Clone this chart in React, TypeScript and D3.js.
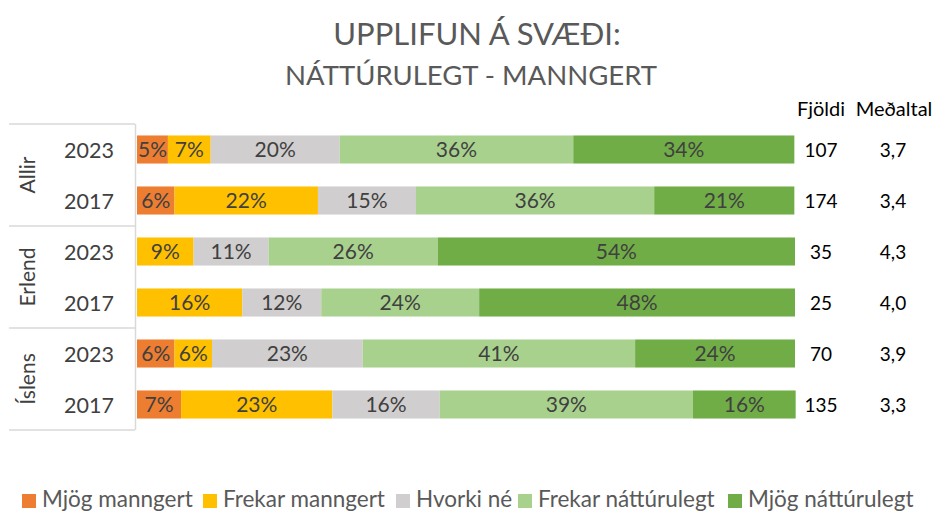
import React from "react";
import * as d3 from "d3";

const groups = ["Allir", "Erlend", "Íslens"];
const years = ["2023", "2017", "2023", "2017", "2023", "2017"];
const seriesNames = ["Mjög manngert", "Frekar manngert", "Hvorki né", "Frekar náttúrulegt", "Mjög náttúrulegt"];
const colors = ["#ED7D31", "#FFC000", "#D0CECE", "#A9D18E", "#70AD47"];
const mjogManngert = [4.7, 5.7, 0, 0, 5.7, 6.7];
const frekarManngert = [6.5, 21.8, 8.6, 16, 5.7, 23.0];
const hvorki = [19.6, 14.9, 11.4, 12, 22.9, 16.3];
const frekarNatt = [35.5, 36.2, 25.7, 24, 41.4, 38.5];
const mjogNatt = [33.6, 21.3, 54.3, 48, 24.3, 15.6];
const fjoldi = ["107", "174", "35", "25", "70", "135"];
const medaltal = ["3,7", "3,4", "4,3", "4,0", "3,9", "3,3"];

export default function App() {
  const W = 935, H = 513;
  const series = [mjogManngert, frekarManngert, hvorki, frekarNatt, mjogNatt];
  const x = d3.scaleLinear().domain([0, 100]).range([137, 795]);
  const y = d3.scaleBand().domain(d3.range(6).map(String)).range([124, 430]).paddingInner(0.45).paddingOuter(0.225);
  const font = "Lato, 'Open Sans', sans-serif";
  const txt = "#404040";
  const lineC = "#D9D9D9";
  const rows = d3.range(6).map((i) => {
    let acc = 0;
    return series.map((s, k) => {
      const v = s[i];
      const seg = { x0: acc, x1: acc + v, v, k };
      acc += v;
      return seg;
    });
  });
  const groupY = [124, 226, 328, 430];
  const legendX = [22, 203, 396, 518, 728];
  return (
    <svg width={W} height={H} style={{ position: "absolute", left: 0, top: 0, fontFamily: font }}>
      <rect width={W} height={H} fill="#fff" />
      <text x={477} y={45} textAnchor="middle" fontSize={31} fill="#595959">UPPLIFUN Á SVÆÐI:</text>
      <text x={471} y={85} textAnchor="middle" fontSize={27.5} fill="#595959">NÁTTÚRULEGT - MANNGERT</text>
      <text x={821} y={116} textAnchor="middle" fontSize={20} fill="#000">Fjöldi</text>
      <text x={894} y={116} textAnchor="middle" fontSize={20} fill="#000">Meðaltal</text>
      <line x1={135.5} x2={135.5} y1={groupY[0]} y2={groupY[3]} stroke={lineC} strokeWidth={1.5} />
      {groupY.map((gy, i) => (
        <line key={i} x1={9} x2={135} y1={gy} y2={gy} stroke={lineC} strokeWidth={1.5} />
      ))}
      {groups.map((g, i) => {
        const cy = (groupY[i] + groupY[i + 1]) / 2;
        return (
          <text key={g} transform={`translate(${35},${cy}) rotate(-90)`} textAnchor="middle" fontSize={21} fill={txt}>{g}</text>
        );
      })}
      {rows.map((segs, i) => {
        const by = y(String(i))!;
        const bh = y.bandwidth();
        const cy = by + bh / 2;
        return (
          <g key={i}>
            <text x={89} y={cy + 8} textAnchor="middle" fontSize={21.5} fill={txt}>{years[i]}</text>
            {segs.filter((s) => s.v > 0).map((s) => (
              <g key={s.k}>
                <rect x={x(s.x0)} y={by} width={x(s.x1) - x(s.x0)} height={bh} fill={colors[s.k]} />
                <text x={(x(s.x0) + x(s.x1)) / 2} y={cy + 7.5} textAnchor="middle" fontSize={21} fill={txt}>
                  {Math.round(s.v)}%
                </text>
              </g>
            ))}
            <text x={821} y={cy + 7} textAnchor="middle" fontSize={19} fill="#000">{fjoldi[i]}</text>
            <text x={893} y={cy + 7} textAnchor="middle" fontSize={19} fill="#000">{medaltal[i]}</text>
          </g>
        );
      })}
      {seriesNames.map((n, k) => (
        <g key={n}>
          <rect x={legendX[k]} y={494} width={14} height={14} fill={colors[k]} />
          <text x={legendX[k] + 20} y={507} fontSize={22.5} fill="#595959">{n}</text>
        </g>
      ))}
    </svg>
  );
}
